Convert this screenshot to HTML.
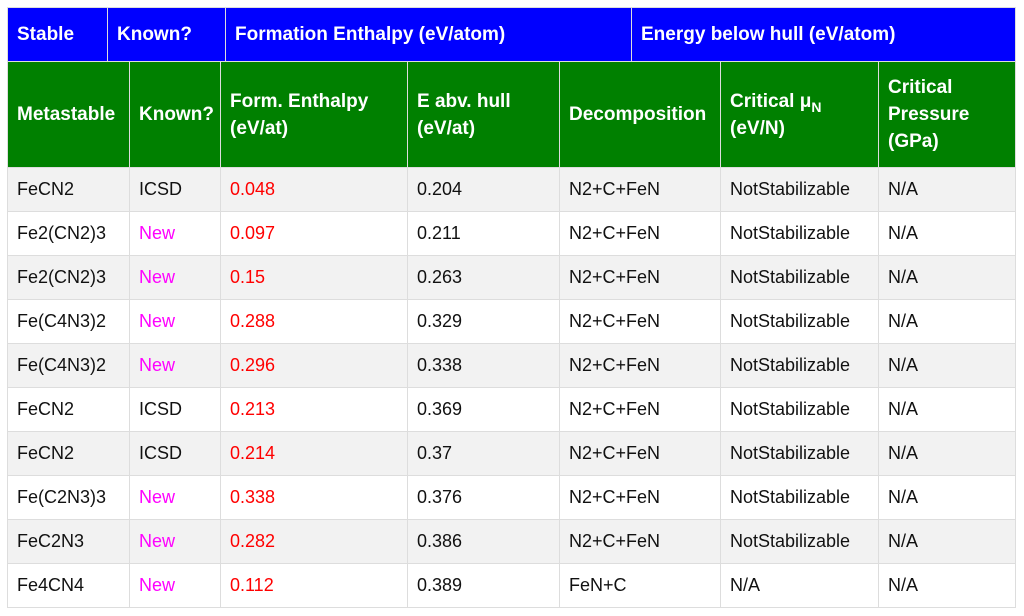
<!DOCTYPE html>
<html><head><meta charset="utf-8"><style>
body{margin:0;width:1024px;height:616px;background:#fff;position:relative;overflow:hidden;font-family:"Liberation Sans","DejaVu Sans",sans-serif}
.c{position:absolute;box-sizing:border-box;border-right:1px solid #ddd;border-bottom:1px solid #ddd;display:flex;align-items:center;padding-left:9px;font-size:18px;color:#111}
.b{background:#0000ff;color:#fff;font-weight:bold;font-size:19px;border-color:#ddd}
.g{background:#008000;color:#fff;font-weight:bold;font-size:19px;line-height:27px}
.r{color:#f00}.m{color:#f0f}
sub{font-size:14px;line-height:0}
</style></head><body>
<div id="t"></div>
<script>
var top1=[["Stable",8,108],["Known?",108,226],["Formation Enthalpy (eV/atom)",226,632],["Energy below hull (eV/atom)",632,1016]];
var cols=[8,130,221,408,560,721,879,1016];
var heads=["Metastable","Known?","Form. Enthalpy<br>(eV/at)","E abv. hull<br>(eV/at)","Decomposition","Critical &mu;<sub>N</sub><br>(eV/N)","Critical<br>Pressure<br>(GPa)"];
var rows=[
["FeCN2","ICSD","0.048","0.204","N2+C+FeN","NotStabilizable","N/A"],
["Fe2(CN2)3","New","0.097","0.211","N2+C+FeN","NotStabilizable","N/A"],
["Fe2(CN2)3","New","0.15","0.263","N2+C+FeN","NotStabilizable","N/A"],
["Fe(C4N3)2","New","0.288","0.329","N2+C+FeN","NotStabilizable","N/A"],
["Fe(C4N3)2","New","0.296","0.338","N2+C+FeN","NotStabilizable","N/A"],
["FeCN2","ICSD","0.213","0.369","N2+C+FeN","NotStabilizable","N/A"],
["FeCN2","ICSD","0.214","0.37","N2+C+FeN","NotStabilizable","N/A"],
["Fe(C2N3)3","New","0.338","0.376","N2+C+FeN","NotStabilizable","N/A"],
["FeC2N3","New","0.282","0.386","N2+C+FeN","NotStabilizable","N/A"],
["Fe4CN4","New","0.112","0.389","FeN+C","N/A","N/A"]];
var T=document.getElementById('t');
function cell(x,y,w,h,html,cls,name,bg){var d=document.createElement('div');d.className='c '+cls;d.style.left=x+'px';d.style.top=y+'px';d.style.width=w+'px';d.style.height=h+'px';if(bg)d.style.background=bg;d.innerHTML='<span>'+html+'</span>';


T.appendChild(d);}
var ob=document.createElement('div');ob.style.cssText='position:absolute;left:7px;top:7px;width:1009px;height:601px;border-left:1px solid #ddd;border-top:1px solid #ddd;box-sizing:border-box';


T.appendChild(ob);
top1.forEach(function(a){cell(a[1],8,a[2]-a[1],54,a[0],'b','stable-header-cell');});
heads.forEach(function(h,i){cell(cols[i],62,cols[i+1]-cols[i],106,h,'g','metastable-header-cell');});
rows.forEach(function(r,j){var y=168+j*44;var bg=j%2==0?'#f2f2f2':'#fff';r.forEach(function(v,i){var cls=i==2?'r':(i==1&&v=='New'?'m':'');cell(cols[i],y,cols[i+1]-cols[i],44,v,cls,'data-cell',bg);});});
</script>
</body></html>
